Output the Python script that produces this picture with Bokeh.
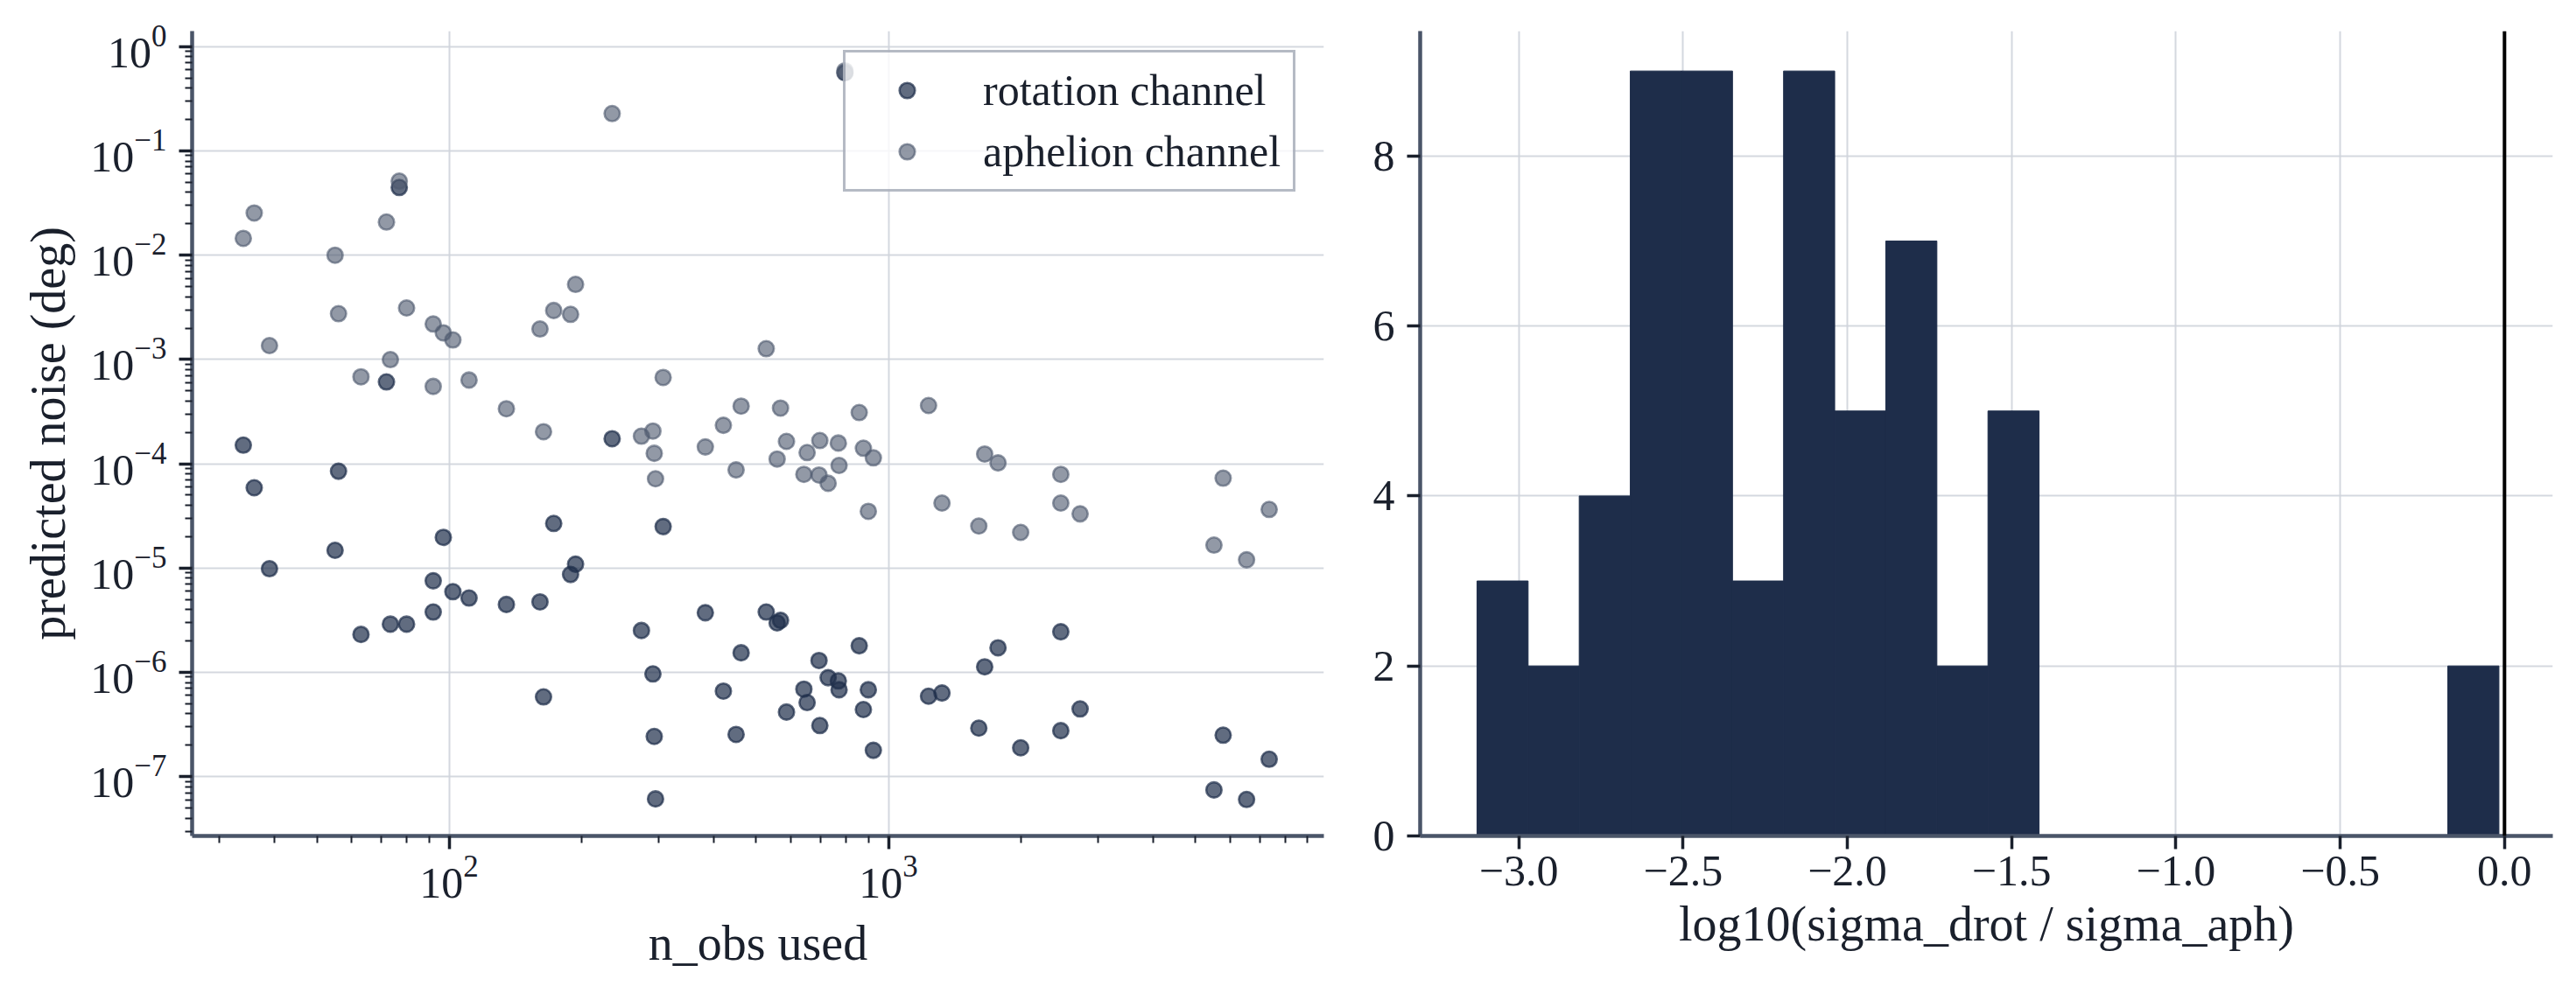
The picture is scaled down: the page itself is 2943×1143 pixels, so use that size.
from bokeh.plotting import figure
from bokeh.models import Range1d, FixedTicker, Span, LogTickFormatter, CustomJSTickFormatter
from bokeh.layouts import row
from bokeh.embed import file_html
from bokeh.resources import INLINE

# ---------------- data ----------------
n_obs = [34, 36, 39, 55, 56, 63, 72, 73.5, 77, 80,
         92, 92, 97, 102, 111, 135, 161, 164, 173, 189,
         194, 235, 274, 291, 293, 295, 307, 383, 421, 450,
         462, 527, 558, 568, 586, 642, 653, 695, 698, 729,
         769, 772, 796, 858, 877, 900, 924, 1234, 1324, 1606,
         1656, 1776, 2000, 2468, 2468, 2731, 5508, 5780, 6535, 7357]

sigma_rot = [1.51e-4, 5.89e-5, 9.86e-6, 1.48e-5, 8.49e-5, 2.31e-6, 6.09e-4, 2.90e-6, 4.46e-2, 2.90e-6,
             7.55e-6, 3.79e-6, 1.97e-5, 5.94e-6, 5.16e-6, 4.48e-6, 4.74e-6, 5.82e-7, 2.68e-5, 8.69e-6,
             1.09e-5, 1.74e-4, 2.52e-6, 9.66e-7, 2.43e-7, 6.12e-8, 2.50e-5, 3.73e-6, 6.61e-7, 2.54e-7,
             1.54e-6, 3.79e-6, 2.98e-6, 3.15e-6, 4.16e-7, 6.90e-7, 5.13e-7, 1.30e-6, 3.09e-7, 8.89e-7,
             8.28e-7, 6.81e-7, 0.561, 1.80e-6, 4.40e-7, 6.81e-7, 1.79e-7, 5.91e-7, 6.34e-7, 2.92e-7,
             1.13e-6, 1.72e-6, 1.89e-7, 2.45e-6, 2.76e-7, 4.46e-7, 7.46e-8, 2.50e-7, 6.04e-8, 1.47e-7]

sigma_aph = [1.45e-2, 2.54e-2, 1.36e-3, 1.0e-2, 2.75e-3, 6.82e-4, 2.08e-2, 9.97e-4, 5.13e-2, 3.12e-3,
             2.19e-3, 5.52e-4, 1.80e-3, 1.54e-3, 6.35e-4, 3.37e-4, 1.96e-3, 2.03e-4, 2.95e-3, 2.71e-3,
             5.25e-3, 0.228, 1.84e-4, 2.06e-4, 1.26e-4, 7.18e-5, 6.72e-4, 1.45e-4, 2.34e-4, 8.74e-5,
             3.57e-4, 1.27e-3, 1.11e-4, 3.42e-4, 1.64e-4, 7.92e-5, 1.28e-4, 7.80e-5, 1.67e-4, 6.50e-5,
             1.58e-4, 9.64e-5, 0.586, 3.10e-4, 1.41e-4, 3.50e-5, 1.14e-4, 3.62e-4, 4.20e-5, 2.53e-5,
             1.24e-4, 1.02e-4, 2.20e-5, 7.92e-5, 4.20e-5, 3.31e-5, 1.66e-5, 7.28e-5, 1.20e-5, 3.65e-5]

hist_edges = [-3.127, -2.9715, -2.816, -2.6605, -2.505, -2.3495, -2.194, -2.0385, -1.883, -1.7275,
              -1.572, -1.4165, -1.261, -1.1055, -0.95, -0.7945, -0.639, -0.4835, -0.328, -0.1725, -0.017]
hist_counts = [3, 2, 4, 9, 9, 3, 9, 5, 7, 2, 5, 0, 0, 0, 0, 0, 0, 0, 0, 2]

x_major = [100, 1000]
x_minor = [30, 40, 50, 60, 70, 80, 90, 200, 300, 400, 500, 600, 700, 800, 900,
           2000, 3000, 4000, 5000, 6000, 7000, 8000, 9000]
y_major = [1e-7, 1e-6, 1e-5, 1e-4, 1e-3, 1e-2, 1e-1, 1e0]
y_minor = [m * d for d in [1e-8, 1e-7, 1e-6, 1e-5, 1e-4, 1e-3, 1e-2, 1e-1, 1e0]
           for m in [2, 3, 4, 5, 6, 7, 8, 9]]
h_xticks = [-3.0, -2.5, -2.0, -1.5, -1.0, -0.5, 0.0]
h_yticks = [0, 2, 4, 6, 8]

# ---------------- style ----------------
FONT = "Liberation Serif"
TXT = "#1a202c"
SPINE = "#4a5568"
GRID = "#cfd4dc"
ROT_C = "#1e2d4a"
APH_C = "#4f5b70"
HIST_C = "#1e2d4a"


def style_axis(ax, standoff, label_standoff):
    ax.axis_line_color = SPINE
    ax.axis_line_width = 4.5
    ax.major_tick_line_color = TXT
    ax.major_tick_line_width = 3.5
    ax.major_tick_out = 15
    ax.major_tick_in = 0
    ax.minor_tick_line_color = TXT
    ax.minor_tick_line_width = 2
    ax.minor_tick_out = 8
    ax.minor_tick_in = 0
    ax.major_label_text_font = FONT
    ax.major_label_text_font_size = "50px"
    ax.major_label_text_color = TXT
    ax.major_label_standoff = standoff
    ax.axis_label_text_font = FONT
    ax.axis_label_text_font_size = "56px"
    ax.axis_label_text_font_style = "normal"
    ax.axis_label_text_color = TXT
    ax.axis_label_standoff = label_standoff


def style_fig(p):
    p.outline_line_color = None
    p.background_fill_color = "white"
    p.border_fill_color = "white"
    for g in (p.xgrid, p.ygrid):
        g.grid_line_color = GRID
        g.grid_line_width = 2
        g.grid_line_alpha = 0.9


# ---------------- left: scatter ----------------
p1 = figure(width=1530, height=1127, x_axis_type="log", y_axis_type="log",
            x_range=Range1d(26, 9800), y_range=Range1d(2.7e-8, 1.41),
            output_backend="svg", toolbar_location=None,
            min_border_left=219, min_border_right=18, min_border_top=35, min_border_bottom=172)
style_fig(p1)

p1.scatter(n_obs, sigma_rot, size=17.5, fill_color=ROT_C, line_color=ROT_C,
           fill_alpha=0.7, line_alpha=0.7, line_width=2.6, legend_label="rotation channel")
p1.scatter(n_obs, sigma_aph, size=17.5, fill_color=APH_C, line_color=APH_C,
           fill_alpha=0.62, line_alpha=0.62, line_width=2.6, legend_label="aphelion channel")

p1.xaxis.ticker = FixedTicker(ticks=x_major, minor_ticks=x_minor)
p1.yaxis.ticker = FixedTicker(ticks=y_major, minor_ticks=y_minor)
p1.xaxis.formatter = LogTickFormatter()
p1.yaxis.formatter = LogTickFormatter()
p1.xaxis.axis_label = "n_obs used"
p1.yaxis.axis_label = "predicted noise (deg)"
style_axis(p1.xaxis[0], 8, 18)
style_axis(p1.yaxis[0], 14, 14)

lg = p1.legend[0]
lg.location = (744, 736)
lg.border_line_color = "#6b7689"
lg.border_line_width = 3
lg.background_fill_color = "white"
lg.background_fill_alpha = 0.8
lg.label_text_font = FONT
lg.label_text_font_size = "50px"
lg.label_text_color = TXT
lg.padding = 14
lg.margin = 0
lg.spacing = 12
lg.glyph_width = 112
lg.glyph_height = 44
lg.label_height = 44
lg.label_standoff = 31

# ---------------- right: histogram ----------------
p2 = figure(width=1397, height=1127,
            x_range=Range1d(-3.30, 0.147), y_range=Range1d(0, 9.47),
            output_backend="svg", toolbar_location=None,
            min_border_left=92, min_border_right=11, min_border_top=35, min_border_bottom=172)
style_fig(p2)
p2.quad(left=hist_edges[:-1], right=hist_edges[1:], bottom=0, top=hist_counts,
        fill_color=HIST_C, line_color=HIST_C, line_width=1)
p2.add_layout(Span(location=0, dimension="height", line_color="black", line_width=4))

p2.xaxis.ticker = FixedTicker(ticks=h_xticks, minor_ticks=[])
p2.yaxis.ticker = FixedTicker(ticks=h_yticks, minor_ticks=[])
p2.xaxis.formatter = CustomJSTickFormatter(code="return tick.toFixed(1).replace('-', '\\u2212');")
p2.xaxis.axis_label = "log10(sigma_drot / sigma_aph)"
style_axis(p2.xaxis[0], 8, 10)
style_axis(p2.yaxis[0], 14, 10)

layout = row(p1, p2)
open("out.html", "w").write(file_html(layout, INLINE))
